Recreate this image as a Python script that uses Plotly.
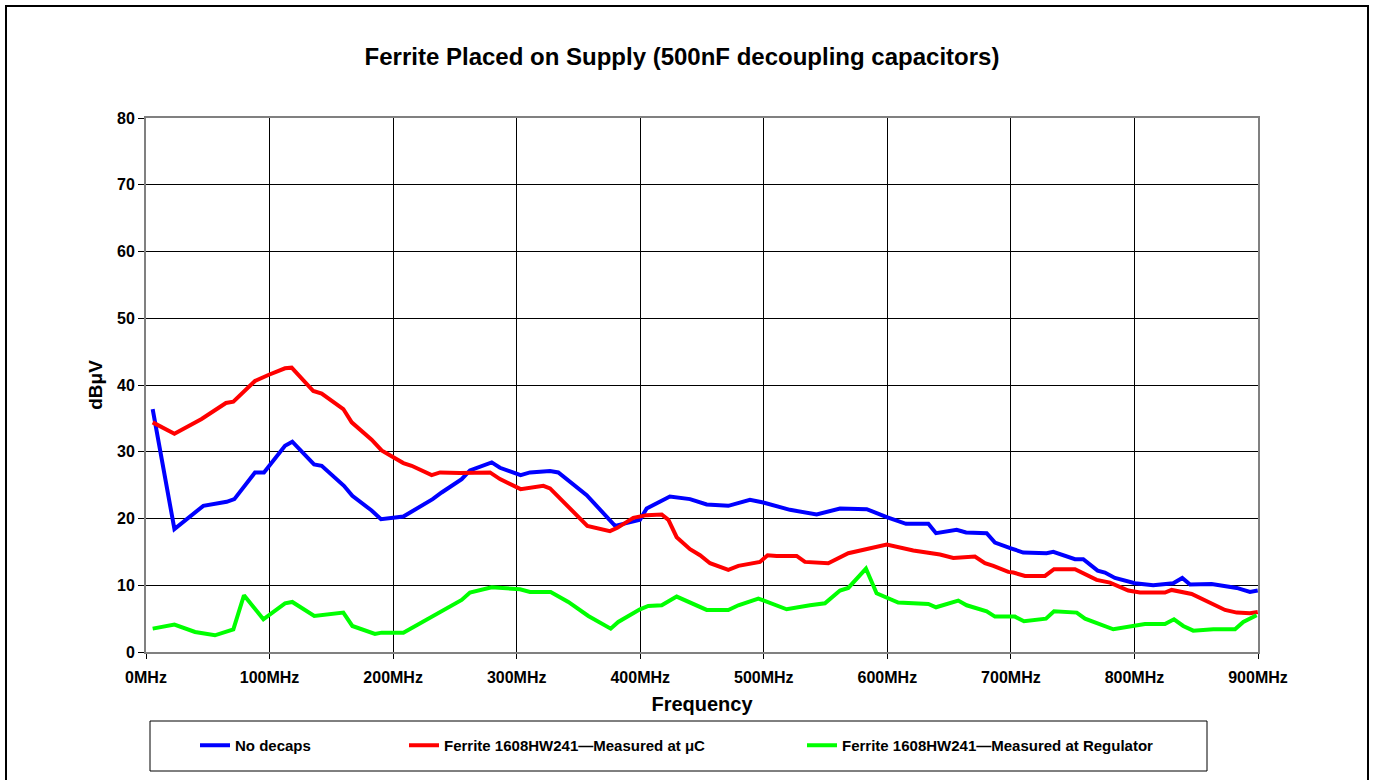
import plotly.graph_objects as go

# ---- data ----
blue_freq = [5.4, 23, 46.4, 65.3, 71.5, 88.2, 95.5, 112.5, 118.4, 136, 142.2, 160.2, 167, 182.6, 190.2,
             208.3, 232, 239.3, 255.5, 262.2, 279.8, 286.5, 303.2, 310.8, 327, 333.7, 356.7, 368.8,
             379.6, 399.8, 405.2, 424, 440.3, 453.8, 471.3, 488.8, 499.6, 521.2, 542.8, 561.7, 583.3,
             599.5, 615.1, 633.2, 639.4, 656.1, 663.7, 680.4, 687.1, 700.6, 710, 728.9, 734.3, 751.9,
             758.6, 770.2, 776.1, 784.2, 800.4, 815.2, 831.4, 838.7, 845, 862.5, 882.8, 893.5, 899.8]
blue_db = [36.4, 18.4, 21.9, 22.5, 22.9, 26.9, 26.9, 30.9, 31.5, 28.1, 27.9, 24.9, 23.4, 21.2, 19.9,
           20.3, 22.9, 23.9, 25.9, 27.2, 28.4, 27.6, 26.5, 26.9, 27.1, 26.9, 23.5, 21.0,
           18.9, 19.8, 21.5, 23.3, 22.9, 22.1, 21.9, 22.8, 22.4, 21.3, 20.6, 21.5, 21.4,
           20.2, 19.2, 19.2, 17.8, 18.3, 17.9, 17.8, 16.4, 15.5, 14.9, 14.8, 15.0, 13.9,
           13.9, 12.2, 11.9, 11.1, 10.3, 10.0, 10.3, 11.1, 10.1, 10.2, 9.6, 9.0, 9.2]

red_freq = [5.4, 23, 45, 64.7, 70.7, 88.2, 99, 112.5, 117.9, 135.4, 142.2, 159.7, 166.5, 182.6, 190.7,
            208.3, 215, 231.2, 238, 254, 278.4, 286.5, 303.2, 321.6, 327, 341.8, 357.2, 375.5, 381.5,
            394.4, 405.2, 417.4, 422.8, 429.5, 440.3, 448.4, 456.5, 471.3, 479.4, 496.9, 503.1, 510.4,
            526.6, 533.3, 552.2, 568.4, 586, 599.5, 621, 642.6, 653.4, 670.9, 679, 685.8, 697.9, 702,
            711.4, 727.6, 734.9, 751.9, 769.4, 780.2, 795, 804.5, 824.7, 830.1, 846.3, 861.1, 873.3,
            882.8, 893.5, 899.8]
red_db = [34.4, 32.7, 34.9, 37.3, 37.5, 40.6, 41.5, 42.5, 42.6, 39.1, 38.7, 36.4, 34.4, 31.8, 30.2,
          28.3, 27.9, 26.5, 26.9, 26.8, 26.9, 25.9, 24.4, 24.9, 24.5, 21.8, 18.9, 18.1, 18.6,
          20.1, 20.5, 20.6, 19.8, 17.2, 15.4, 14.5, 13.3, 12.3, 12.9, 13.5, 14.5, 14.4,
          14.4, 13.5, 13.3, 14.8, 15.5, 16.1, 15.2, 14.6, 14.1, 14.3, 13.3, 12.9, 12.0, 11.9,
          11.4, 11.4, 12.4, 12.4, 10.8, 10.4, 9.2, 8.9, 8.9, 9.3, 8.7, 7.4, 6.3,
          5.9, 5.8, 6.0]

green_freq = [5.4, 23, 39.7, 55.8, 70.7, 79.3, 95, 112.5, 118.4, 136.2, 159.7, 167, 185.3, 190.7, 208.3,
              232, 239.3, 255.5, 262.2, 279.8, 302.7, 310.8, 327.5, 341.8, 358, 376.1, 382.2, 399.8,
              406.5, 417.4, 429.5, 453.8, 471.3, 479.4, 495.6, 518.5, 537.4, 549.5, 561.7, 568.4,
              582.7, 591.3, 608.8, 633.2, 639.4, 657.4, 664.2, 680.4, 687.1, 703.3, 710.6, 728.4,
              734.9, 753.3, 760, 782.9, 808.5, 824.7, 832, 839.5, 847.6, 863.8, 881.4, 888.1, 898.9]
green_db = [3.5, 4.1, 3.0, 2.5, 3.4, 8.5, 4.9, 7.3, 7.5, 5.4, 5.9, 3.9, 2.7, 2.9, 2.9,
            5.3, 6.2, 7.8, 8.9, 9.7, 9.4, 9.0, 9.0, 7.5, 5.4, 3.5, 4.5, 6.4,
            6.9, 7.0, 8.3, 6.3, 6.3, 7.0, 8.0, 6.4, 7.0, 7.3, 9.2, 9.6,
            12.5, 8.8, 7.4, 7.2, 6.7, 7.7, 7.0, 6.1, 5.3, 5.3, 4.6, 5.0,
            6.1, 5.9, 5.0, 3.4, 4.2, 4.2, 4.9, 3.9, 3.2, 3.4, 3.4, 4.5, 5.5]

series_names = ["No decaps",
                "Ferrite 1608HW241\u2014Measured at \u03bcC",
                "Ferrite 1608HW241\u2014Measured at Regulator"]
x_ticks = [0, 100, 200, 300, 400, 500, 600, 700, 800, 900]
x_tick_labels = [f"{v}MHz" for v in x_ticks]
y_ticks = [0, 10, 20, 30, 40, 50, 60, 70, 80]

FONT = "Liberation Sans, Arial, sans-serif"

W, H = 1375, 780
L, R, T, B = 146, 117, 118, 128
PW, PH = W - L - R, H - T - B


def px(xp):
    return (xp - L) / PW


def py(yp):
    return (H - B - yp) / PH


def bold(size):
    return dict(family=FONT, size=size, color="#000000", weight="bold")


fig = go.Figure()
fig.add_trace(go.Scatter(x=blue_freq, y=blue_db, mode="lines", name=series_names[0],
                         line=dict(color="#0000FF", width=4), legend="legend", showlegend=True))
fig.add_trace(go.Scatter(x=red_freq, y=red_db, mode="lines", name=series_names[1],
                         line=dict(color="#FF0000", width=4), legend="legend2", showlegend=True))
fig.add_trace(go.Scatter(x=green_freq, y=green_db, mode="lines", name=series_names[2],
                         line=dict(color="#00FF00", width=4), legend="legend3", showlegend=True))

leg_common = dict(orientation="h", yanchor="middle", xanchor="left",
                  bgcolor="rgba(0,0,0,0)", borderwidth=0, font=bold(15))
fig.update_layout(
    width=W, height=H,
    showlegend=True,
    margin=dict(l=L, r=R, t=T, b=B),
    paper_bgcolor="#FFFFFF", plot_bgcolor="#FFFFFF",
    title=dict(text="Ferrite Placed on Supply (500nF decoupling capacitors)",
               x=682 / W, xref="container", xanchor="center", y=1 - 57 / H, yanchor="middle",
               font=bold(24)),
    legend=dict(x=px(195), y=py(745.5), **leg_common),
    legend2=dict(x=px(404), y=py(745.5), **leg_common),
    legend3=dict(x=px(802), y=py(745.5), **leg_common),
    xaxis=dict(range=[0, 900], tickvals=x_ticks, ticktext=x_tick_labels,
               showgrid=True, gridcolor="#000000", gridwidth=1,
               showline=True, linecolor="#808080", linewidth=2, mirror=True,
               ticks="outside", ticklen=5, tickcolor="#000000",
               ticklabelstandoff=5,
               tickfont=bold(16),
               zeroline=False,
               title=dict(text="Frequency", standoff=12, font=bold(20))),
    yaxis=dict(range=[0, 80], tickvals=y_ticks,
               showgrid=True, gridcolor="#000000", gridwidth=1,
               showline=True, linecolor="#808080", linewidth=2, mirror=True,
               ticks="outside", ticklen=6, tickcolor="#000000",
               tickfont=bold(16),
               zeroline=False,
               title=dict(text="dB\u03bcV", standoff=9, font=bold(19))),
    shapes=[
        # outer chart border
        dict(type="rect", xref="paper", yref="paper",
             x0=px(6), x1=px(1368), y0=py(784), y1=py(6),
             line=dict(color="#000000", width=2), fillcolor="rgba(0,0,0,0)", layer="below"),
        # legend box
        dict(type="rect", xref="paper", yref="paper",
             x0=px(150), x1=px(1207), y0=py(771), y1=py(721),
             line=dict(color="#000000", width=1), fillcolor="rgba(0,0,0,0)", layer="below"),
    ],
)

fig.write_html("out.html", config={"displayModeBar": False},
               post_script="document.body.style.margin='0px';")
